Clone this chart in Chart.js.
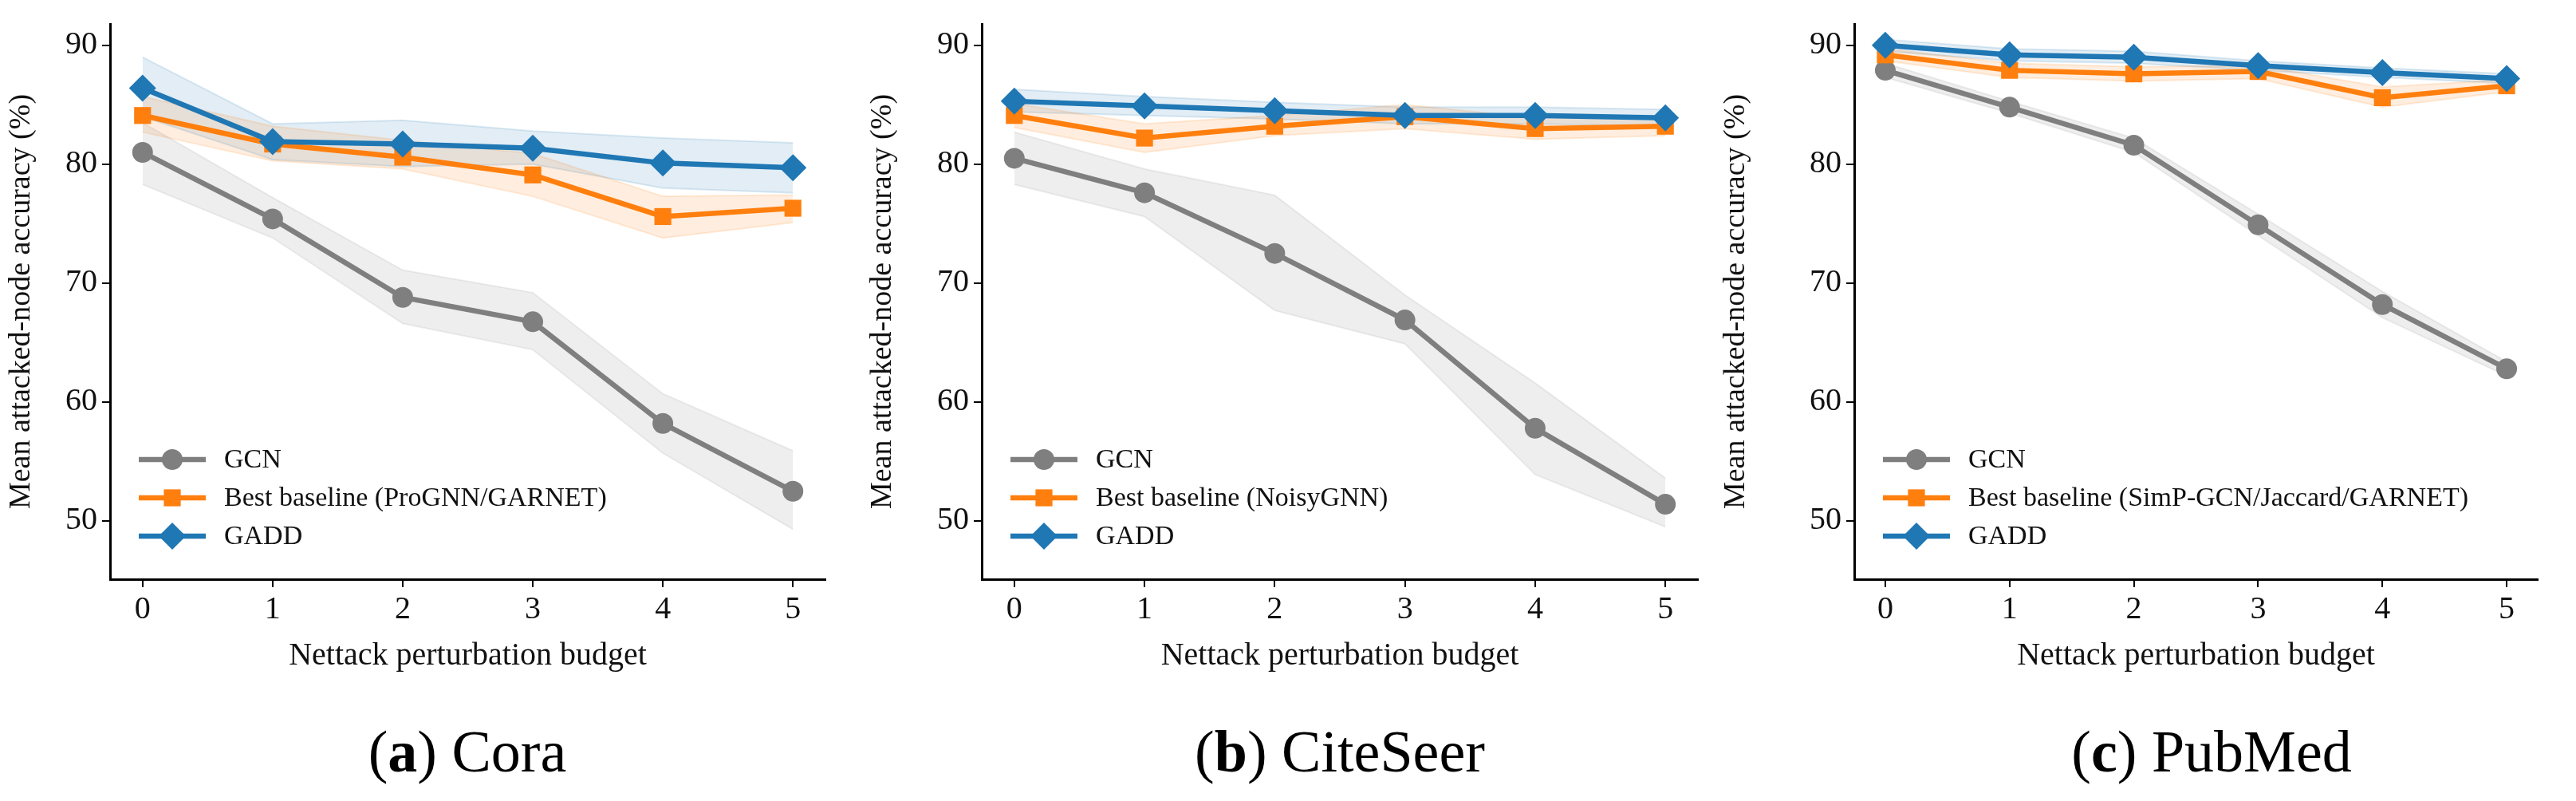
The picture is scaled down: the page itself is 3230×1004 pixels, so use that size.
<!DOCTYPE html>
<html><head><meta charset="utf-8">
<script src="https://cdn.jsdelivr.net/npm/chart.js@4/dist/chart.umd.min.js"></script>
<style>
body{margin:0;background:#fff;width:3230px;height:1004px;position:relative;overflow:hidden;font-family:"Liberation Serif",serif}
.box{position:absolute;top:0;height:850px}
.cap{position:absolute;top:900px;font-size:74px;white-space:nowrap;transform:translateX(-50%)}
</style></head><body>
<div class="box" id="b0" style="left:0;width:1075px"><canvas id="c0"></canvas></div>
<div class="box" id="b1" style="left:1080px;width:1089px"><canvas id="c1"></canvas></div>
<div class="box" id="b2" style="left:2150px;width:1072px"><canvas id="c2"></canvas></div>
<div class="cap" style="left:586px">(<b>a</b>) Cora</div>
<div class="cap" style="left:1680px">(<b>b</b>) CiteSeer</div>
<div class="cap" style="left:2773px">(<b>c</b>) PubMed</div>
<script>
const budgets = [0, 1, 2, 3, 4, 5];
const yTicks = [50, 60, 70, 80, 90];

// Cora
const coraGcn = [81.0, 75.4, 68.8, 66.75, 58.2, 52.5];
const coraGcnHi = [83.5, 77.2, 71.1, 69.2, 60.7, 55.9];
const coraGcnLo = [78.3, 73.8, 66.6, 64.4, 55.7, 49.3];
const coraBest = [84.1, 81.7, 80.6, 79.1, 75.6, 76.3];
const coraBestHi = [85.7, 83.2, 82.0, 80.9, 77.3, 77.4];
const coraBestLo = [82.7, 80.3, 79.6, 77.3, 73.8, 75.1];
const coraGadd = [86.4, 81.9, 81.7, 81.35, 80.1, 79.7];
const coraGaddHi = [89.0, 83.4, 83.7, 82.8, 82.2, 81.8];
const coraGaddLo = [84.0, 80.4, 79.8, 80.0, 78.0, 77.6];

// CiteSeer
const citeGcn = [80.5, 77.6, 72.5, 66.9, 57.8, 51.4];
const citeGcnHi = [82.7, 79.6, 77.4, 69.0, 61.6, 53.6];
const citeGcnLo = [78.3, 75.6, 67.7, 64.9, 53.9, 49.5];
const citeBest = [84.1, 82.2, 83.2, 84.0, 83.0, 83.2];
const citeBestHi = [85.1, 83.4, 84.1, 85.0, 83.9, 84.0];
const citeBestLo = [83.1, 81.0, 82.4, 83.0, 82.1, 82.4];
const citeGadd = [85.3, 84.9, 84.5, 84.1, 84.1, 83.9];
const citeGaddHi = [86.3, 85.7, 85.2, 84.8, 84.8, 84.6];
const citeGaddLo = [84.4, 84.1, 83.8, 83.4, 83.4, 83.2];

// PubMed
const pubGcn = [87.9, 84.8, 81.6, 74.9, 68.2, 62.8];
const pubGcnHi = [88.5, 85.3, 82.2, 75.8, 69.3, 63.4];
const pubGcnLo = [87.3, 84.3, 81.0, 74.0, 67.1, 62.2];
const pubBest = [89.2, 87.9, 87.6, 87.8, 85.6, 86.6];
const pubBestHi = [89.7, 88.5, 88.2, 88.3, 86.5, 87.1];
const pubBestLo = [88.7, 87.3, 87.0, 87.2, 84.8, 86.1];
const pubGadd = [90.0, 89.2, 89.0, 88.3, 87.7, 87.2];
const pubGaddHi = [90.5, 89.7, 89.5, 88.7, 88.1, 87.6];
const pubGaddLo = [89.5, 88.7, 88.5, 87.9, 87.3, 86.8];

const panels = [
  {id: 'c0', yw: 138, best: 'Best baseline (ProGNN/GARNET)',
   gcn: [coraGcn, coraGcnHi, coraGcnLo], bst: [coraBest, coraBestHi, coraBestLo], gadd: [coraGadd, coraGaddHi, coraGaddLo]},
  {id: 'c1', yw: 151, best: 'Best baseline (NoisyGNN)',
   gcn: [citeGcn, citeGcnHi, citeGcnLo], bst: [citeBest, citeBestHi, citeBestLo], gadd: [citeGadd, citeGaddHi, citeGaddLo]},
  {id: 'c2', yw: 175, best: 'Best baseline (SimP-GCN/Jaccard/GARNET)',
   gcn: [pubGcn, pubGcnHi, pubGcnLo], bst: [pubBest, pubBestHi, pubBestLo], gadd: [pubGadd, pubGaddHi, pubGaddLo]}
];

const GRAY = '#7f7f7f', ORANGE = '#ff7f0e', BLUE = '#1f77b4';
const FONT = 'Liberation Serif';
const pts = arr => arr.map((v, i) => ({x: budgets[i], y: v}));

function series(label, vals, color, style, radius, order) {
  const [m, hi, lo] = vals;
  const fillCol = color === GRAY ? 'rgba(127,127,127,0.13)' : color === ORANGE ? 'rgba(255,127,14,0.13)' : 'rgba(31,119,180,0.13)';
  const edge = color === GRAY ? 'rgba(127,127,127,0.12)' : color === ORANGE ? 'rgba(255,127,14,0.15)' : 'rgba(31,119,180,0.15)';
  return [
    {label: '', data: pts(hi), borderColor: edge, borderWidth: 2, pointRadius: 0, fill: false, order: 10},
    {label: '', data: pts(lo), borderColor: edge, borderWidth: 2, pointRadius: 0, fill: '-1', backgroundColor: fillCol, order: 10},
    {label: label, data: pts(m), borderColor: color, backgroundColor: color, borderWidth: 6.5,
     pointStyle: style, pointRadius: radius, pointBorderWidth: 0, fill: false, order: order}
  ];
}

const legendPlugin = {
  id: 'innerLegend',
  afterDraw(chart) {
    const ctx = chart.ctx, a = chart.chartArea;
    const items = chart.options.plugins.innerLegend.items;
    items.forEach((it, i) => {
      const y = 576 + i * 48, x0 = a.left + 36;
      ctx.save();
      ctx.strokeStyle = it.color; ctx.lineWidth = 6.5;
      ctx.beginPath(); ctx.moveTo(x0, y); ctx.lineTo(x0 + 84, y); ctx.stroke();
      ctx.fillStyle = it.color;
      Chart.helpers.drawPoint(ctx, {pointStyle: it.style, radius: it.r, borderWidth: 0}, x0 + 42, y);
      ctx.fillStyle = '#111';
      ctx.font = '34px "' + FONT + '"';
      ctx.textBaseline = 'middle';
      ctx.fillText(it.text, x0 + 107, y + 1);
      ctx.restore();
    });
  }
};

function build() {
  panels.forEach(p => {
    const datasets = [].concat(
      series('GCN', p.gcn, GRAY, 'circle', 13, 3),
      series(p.best, p.bst, ORANGE, 'rect', 15, 2),
      series('GADD', p.gadd, BLUE, 'rectRot', 17, 1)
    );
    new Chart(document.getElementById(p.id), {
      type: 'line',
      data: {datasets: datasets},
      plugins: [legendPlugin],
      options: {
        responsive: true, maintainAspectRatio: false, animation: false,
        layout: {padding: {top: 16, right: 40, left: 0, bottom: 0}},
        plugins: {
          legend: {display: false}, tooltip: {enabled: false},
          innerLegend: {items: [
            {text: 'GCN', color: GRAY, style: 'circle', r: 13},
            {text: p.best, color: ORANGE, style: 'rect', r: 15},
            {text: 'GADD', color: BLUE, style: 'rectRot', r: 17}
          ]}
        },
        scales: {
          x: {
            type: 'linear', min: -0.25, max: 5.25,
            afterBuildTicks(s) { s.ticks = budgets.map(v => ({value: v})); },
            afterFit(s) { s.height = 124; },
            grid: {drawOnChartArea: false, drawTicks: true, tickLength: 10, color: '#000', lineWidth: 2},
            border: {display: true, color: '#000', width: 3},
            ticks: {color: '#111', font: {family: FONT, size: 40}, padding: 4},
            title: {display: true, text: 'Nettack perturbation budget', color: '#111',
                    font: {family: FONT, size: 40}, padding: {top: 0}}
          },
          y: {
            min: 45.1, max: 91.8,
            afterBuildTicks(s) { s.ticks = yTicks.map(v => ({value: v})); },
            afterFit(s) { s.width = p.yw; },
            grid: {drawOnChartArea: false, drawTicks: true, tickLength: 10, color: '#000', lineWidth: 2},
            border: {display: true, color: '#000', width: 3},
            ticks: {color: '#111', font: {family: FONT, size: 40}, padding: 6},
            title: {display: true, text: 'Mean attacked-node accuracy (%)', color: '#111',
                    font: {family: FONT, size: 38}, padding: {bottom: 2}}
          }
        }
      }
    });
  });
}

Promise.all([document.fonts.load('40px "' + FONT + '"'), document.fonts.load('bold 40px "' + FONT + '"')])
  .then(build, build);
</script>
</body></html>
